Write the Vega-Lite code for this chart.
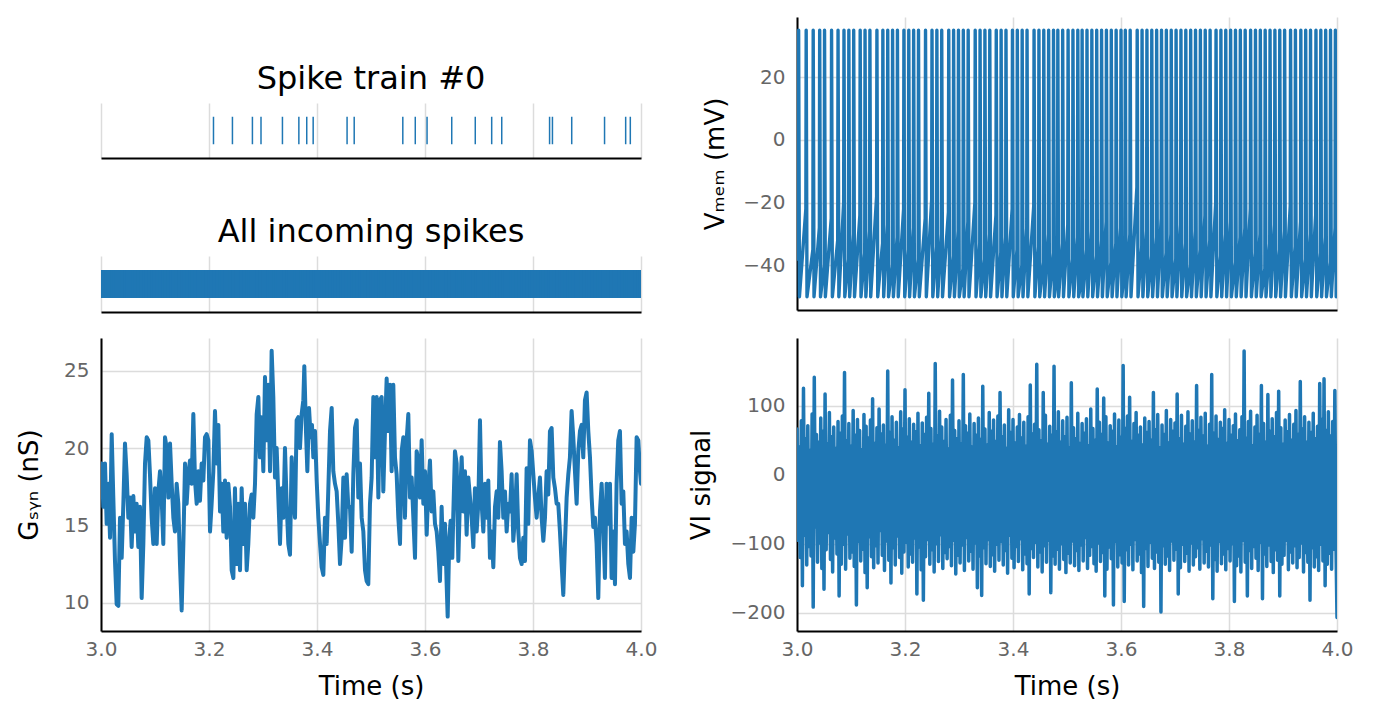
{
"$schema": "https://vega.github.io/schema/vega-lite/v6.json",
"padding": {"left": 16, "top": 17, "right": 5, "bottom": 5},
"config": {
 "font": "DejaVu Sans",
 "view": {"stroke": null},
 "axis": {"domainColor": "#000000", "domainWidth": 2, "gridColor": "#dcdcdc", "gridWidth": 1.5, "ticks": false, "labelColor": "#666666", "labelFontSize": 20, "labelPadding": 11, "labelFlush": false, "titleFontSize": 26, "titleFontWeight": "normal", "titleColor": "#000000"},
 "title": {"fontSize": 32, "fontWeight": "normal", "color": "#000000", "offset": 7, "anchor": "middle"}
},
"datasets": {
"spk": [{"t":3.2083},{"t":3.2434},{"t":3.2804},{"t":3.2963},{"t":3.3360},{"t":3.3664},{"t":3.3810},{"t":3.3929},{"t":3.4557},{"t":3.4689},{"t":3.5589},{"t":3.5820},{"t":3.6038},{"t":3.6495},{"t":3.6931},{"t":3.7235},{"t":3.7421},{"t":3.8307},{"t":3.8360},{"t":3.8717},{"t":3.9325},{"t":3.9716},{"t":3.9802}],
"inc": [{"t":3.001},{"t":3.006},{"t":3.010},{"t":3.015},{"t":3.021},{"t":3.025},{"t":3.030},{"t":3.036},{"t":3.040},{"t":3.045},{"t":3.050},{"t":3.056},{"t":3.061},{"t":3.065},{"t":3.070},{"t":3.076},{"t":3.081},{"t":3.085},{"t":3.091},{"t":3.096},{"t":3.100},{"t":3.105},{"t":3.111},{"t":3.116},{"t":3.120},{"t":3.126},{"t":3.131},{"t":3.135},{"t":3.140},{"t":3.146},{"t":3.151},{"t":3.155},{"t":3.161},{"t":3.166},{"t":3.170},{"t":3.175},{"t":3.181},{"t":3.186},{"t":3.190},{"t":3.196},{"t":3.201},{"t":3.205},{"t":3.210},{"t":3.216},{"t":3.221},{"t":3.225},{"t":3.231},{"t":3.236},{"t":3.240},{"t":3.245},{"t":3.251},{"t":3.256},{"t":3.260},{"t":3.266},{"t":3.271},{"t":3.275},{"t":3.280},{"t":3.286},{"t":3.291},{"t":3.295},{"t":3.301},{"t":3.306},{"t":3.310},{"t":3.315},{"t":3.321},{"t":3.326},{"t":3.330},{"t":3.336},{"t":3.341},{"t":3.345},{"t":3.350},{"t":3.356},{"t":3.361},{"t":3.365},{"t":3.371},{"t":3.376},{"t":3.380},{"t":3.385},{"t":3.391},{"t":3.396},{"t":3.400},{"t":3.406},{"t":3.411},{"t":3.415},{"t":3.420},{"t":3.426},{"t":3.431},{"t":3.435},{"t":3.441},{"t":3.446},{"t":3.450},{"t":3.455},{"t":3.461},{"t":3.466},{"t":3.470},{"t":3.476},{"t":3.481},{"t":3.485},{"t":3.490},{"t":3.496},{"t":3.501},{"t":3.505},{"t":3.511},{"t":3.516},{"t":3.520},{"t":3.525},{"t":3.531},{"t":3.536},{"t":3.540},{"t":3.546},{"t":3.551},{"t":3.555},{"t":3.560},{"t":3.566},{"t":3.571},{"t":3.575},{"t":3.581},{"t":3.586},{"t":3.590},{"t":3.595},{"t":3.601},{"t":3.606},{"t":3.610},{"t":3.616},{"t":3.621},{"t":3.625},{"t":3.630},{"t":3.636},{"t":3.641},{"t":3.645},{"t":3.651},{"t":3.656},{"t":3.660},{"t":3.665},{"t":3.671},{"t":3.676},{"t":3.680},{"t":3.686},{"t":3.691},{"t":3.695},{"t":3.700},{"t":3.706},{"t":3.711},{"t":3.715},{"t":3.721},{"t":3.726},{"t":3.730},{"t":3.735},{"t":3.741},{"t":3.746},{"t":3.750},{"t":3.756},{"t":3.761},{"t":3.765},{"t":3.770},{"t":3.776},{"t":3.781},{"t":3.785},{"t":3.791},{"t":3.796},{"t":3.800},{"t":3.805},{"t":3.811},{"t":3.816},{"t":3.820},{"t":3.826},{"t":3.831},{"t":3.835},{"t":3.840},{"t":3.846},{"t":3.851},{"t":3.855},{"t":3.861},{"t":3.866},{"t":3.870},{"t":3.875},{"t":3.881},{"t":3.886},{"t":3.890},{"t":3.896},{"t":3.901},{"t":3.905},{"t":3.910},{"t":3.916},{"t":3.921},{"t":3.925},{"t":3.931},{"t":3.936},{"t":3.940},{"t":3.945},{"t":3.951},{"t":3.956},{"t":3.960},{"t":3.966},{"t":3.971},{"t":3.975},{"t":3.980},{"t":3.986},{"t":3.991},{"t":3.995},{"t":3.999}],
"gsyn": [{"t":3.0000,"g":18.0},{"t":3.0012,"g":19.0},{"t":3.0043,"g":16.2},{"t":3.0074,"g":19.0},{"t":3.0105,"g":15.1},{"t":3.0136,"g":17.7},{"t":3.0167,"g":14.2},{"t":3.0198,"g":20.9},{"t":3.0228,"g":16.8},{"t":3.0259,"g":12.7},{"t":3.0290,"g":9.9},{"t":3.0321,"g":9.8},{"t":3.0352,"g":15.5},{"t":3.0383,"g":12.9},{"t":3.0414,"g":16.4},{"t":3.0444,"g":20.3},{"t":3.0475,"g":18.3},{"t":3.0506,"g":15.5},{"t":3.0537,"g":16.8},{"t":3.0568,"g":13.6},{"t":3.0599,"g":16.9},{"t":3.0630,"g":14.6},{"t":3.0660,"g":16.4},{"t":3.0691,"g":13.6},{"t":3.0722,"g":16.2},{"t":3.0753,"g":10.3},{"t":3.0784,"g":13.8},{"t":3.0815,"g":19.0},{"t":3.0846,"g":20.7},{"t":3.0877,"g":20.5},{"t":3.0907,"g":18.3},{"t":3.0938,"g":15.5},{"t":3.0969,"g":13.8},{"t":3.1000,"g":17.4},{"t":3.1031,"g":13.8},{"t":3.1062,"g":17.2},{"t":3.1093,"g":18.5},{"t":3.1123,"g":16.8},{"t":3.1154,"g":13.8},{"t":3.1185,"g":20.7},{"t":3.1216,"g":20.0},{"t":3.1247,"g":16.8},{"t":3.1278,"g":20.3},{"t":3.1309,"g":17.7},{"t":3.1340,"g":15.5},{"t":3.1370,"g":14.6},{"t":3.1401,"g":17.7},{"t":3.1432,"g":16.4},{"t":3.1463,"g":12.5},{"t":3.1494,"g":9.5},{"t":3.1525,"g":13.8},{"t":3.1556,"g":19.0},{"t":3.1586,"g":16.4},{"t":3.1617,"g":18.3},{"t":3.1648,"g":19.2},{"t":3.1679,"g":17.7},{"t":3.1710,"g":22.2},{"t":3.1741,"g":17.9},{"t":3.1772,"g":16.4},{"t":3.1802,"g":18.5},{"t":3.1833,"g":16.6},{"t":3.1864,"g":19.0},{"t":3.1895,"g":17.9},{"t":3.1926,"g":20.7},{"t":3.1957,"g":20.9},{"t":3.1988,"g":20.5},{"t":3.2019,"g":14.6},{"t":3.2049,"g":16.4},{"t":3.2080,"g":18.5},{"t":3.2111,"g":22.4},{"t":3.2142,"g":19.0},{"t":3.2173,"g":21.5},{"t":3.2204,"g":15.9},{"t":3.2235,"g":17.7},{"t":3.2265,"g":14.6},{"t":3.2296,"g":17.9},{"t":3.2327,"g":14.2},{"t":3.2358,"g":17.7},{"t":3.2389,"g":16.2},{"t":3.2420,"g":12.1},{"t":3.2451,"g":11.6},{"t":3.2481,"g":17.4},{"t":3.2512,"g":12.5},{"t":3.2543,"g":16.4},{"t":3.2574,"g":12.1},{"t":3.2605,"g":17.4},{"t":3.2636,"g":13.8},{"t":3.2667,"g":16.4},{"t":3.2698,"g":12.1},{"t":3.2728,"g":13.8},{"t":3.2759,"g":16.4},{"t":3.2790,"g":17.0},{"t":3.2821,"g":15.5},{"t":3.2852,"g":17.7},{"t":3.2883,"g":22.2},{"t":3.2914,"g":23.3},{"t":3.2944,"g":19.4},{"t":3.2975,"g":22.0},{"t":3.3006,"g":18.5},{"t":3.3037,"g":24.6},{"t":3.3068,"g":20.5},{"t":3.3099,"g":24.1},{"t":3.3130,"g":18.5},{"t":3.3160,"g":26.3},{"t":3.3191,"g":23.3},{"t":3.3222,"g":18.1},{"t":3.3253,"g":20.0},{"t":3.3284,"g":16.8},{"t":3.3315,"g":13.8},{"t":3.3346,"g":17.4},{"t":3.3377,"g":15.5},{"t":3.3407,"g":20.0},{"t":3.3438,"g":16.4},{"t":3.3469,"g":13.8},{"t":3.3500,"g":13.1},{"t":3.3531,"g":19.4},{"t":3.3562,"g":16.8},{"t":3.3593,"g":15.5},{"t":3.3623,"g":21.8},{"t":3.3654,"g":22.0},{"t":3.3685,"g":20.0},{"t":3.3716,"g":22.2},{"t":3.3747,"g":23.1},{"t":3.3765,"g":25.3},{"t":3.3796,"g":21.1},{"t":3.3821,"g":18.5},{"t":3.3852,"g":22.6},{"t":3.3883,"g":20.7},{"t":3.3907,"g":21.5},{"t":3.3932,"g":19.4},{"t":3.3963,"g":21.1},{"t":3.3994,"g":17.9},{"t":3.4025,"g":15.5},{"t":3.4056,"g":13.8},{"t":3.4086,"g":12.3},{"t":3.4117,"g":11.8},{"t":3.4148,"g":15.5},{"t":3.4179,"g":13.8},{"t":3.4210,"g":17.4},{"t":3.4241,"g":21.1},{"t":3.4272,"g":22.6},{"t":3.4302,"g":18.5},{"t":3.4333,"g":17.7},{"t":3.4364,"g":17.2},{"t":3.4395,"g":15.1},{"t":3.4426,"g":12.5},{"t":3.4457,"g":14.2},{"t":3.4488,"g":18.1},{"t":3.4519,"g":14.2},{"t":3.4549,"g":18.3},{"t":3.4580,"g":16.2},{"t":3.4611,"g":16.2},{"t":3.4642,"g":13.3},{"t":3.4673,"g":18.3},{"t":3.4704,"g":21.3},{"t":3.4735,"g":21.8},{"t":3.4765,"g":16.8},{"t":3.4796,"g":19.0},{"t":3.4827,"g":15.5},{"t":3.4858,"g":14.6},{"t":3.4889,"g":12.1},{"t":3.4919,"g":11.4},{"t":3.4950,"g":11.2},{"t":3.4981,"g":16.4},{"t":3.5012,"g":18.1},{"t":3.5043,"g":23.3},{"t":3.5074,"g":19.4},{"t":3.5105,"g":23.3},{"t":3.5136,"g":16.8},{"t":3.5166,"g":23.1},{"t":3.5197,"g":23.3},{"t":3.5228,"g":17.2},{"t":3.5259,"g":21.1},{"t":3.5290,"g":24.5},{"t":3.5321,"g":21.1},{"t":3.5352,"g":24.1},{"t":3.5382,"g":18.5},{"t":3.5413,"g":24.1},{"t":3.5444,"g":19.4},{"t":3.5475,"g":18.3},{"t":3.5506,"g":15.5},{"t":3.5537,"g":13.8},{"t":3.5568,"g":19.8},{"t":3.5599,"g":20.7},{"t":3.5629,"g":15.5},{"t":3.5660,"g":20.5},{"t":3.5691,"g":22.2},{"t":3.5722,"g":16.8},{"t":3.5753,"g":18.1},{"t":3.5784,"g":15.5},{"t":3.5815,"g":12.9},{"t":3.5845,"g":19.8},{"t":3.5876,"g":19.2},{"t":3.5907,"g":16.8},{"t":3.5938,"g":20.5},{"t":3.5969,"g":16.4},{"t":3.6000,"g":18.5},{"t":3.6031,"g":14.4},{"t":3.6061,"g":17.4},{"t":3.6092,"g":19.2},{"t":3.6123,"g":15.9},{"t":3.6154,"g":17.2},{"t":3.6185,"g":15.1},{"t":3.6216,"g":14.6},{"t":3.6247,"g":13.3},{"t":3.6277,"g":11.4},{"t":3.6308,"g":16.2},{"t":3.6339,"g":12.5},{"t":3.6370,"g":15.1},{"t":3.6401,"g":11.2},{"t":3.6420,"g":9.1},{"t":3.6450,"g":14.2},{"t":3.6475,"g":15.3},{"t":3.6506,"g":12.9},{"t":3.6524,"g":15.7},{"t":3.6555,"g":19.8},{"t":3.6586,"g":19.0},{"t":3.6617,"g":12.7},{"t":3.6648,"g":16.8},{"t":3.6679,"g":19.4},{"t":3.6710,"g":15.9},{"t":3.6740,"g":18.5},{"t":3.6771,"g":14.4},{"t":3.6802,"g":18.1},{"t":3.6833,"g":16.8},{"t":3.6864,"g":15.5},{"t":3.6895,"g":13.6},{"t":3.6925,"g":17.4},{"t":3.6956,"g":14.6},{"t":3.6987,"g":16.4},{"t":3.7018,"g":21.8},{"t":3.7049,"g":16.4},{"t":3.7080,"g":14.6},{"t":3.7111,"g":17.7},{"t":3.7142,"g":15.5},{"t":3.7172,"g":17.9},{"t":3.7203,"g":12.9},{"t":3.7234,"g":14.6},{"t":3.7265,"g":12.3},{"t":3.7296,"g":16.2},{"t":3.7327,"g":17.2},{"t":3.7358,"g":15.5},{"t":3.7388,"g":20.4},{"t":3.7419,"g":18.5},{"t":3.7450,"g":15.5},{"t":3.7481,"g":17.2},{"t":3.7512,"g":14.6},{"t":3.7543,"g":16.4},{"t":3.7574,"g":15.9},{"t":3.7604,"g":18.3},{"t":3.7635,"g":14.0},{"t":3.7666,"g":15.5},{"t":3.7697,"g":18.3},{"t":3.7728,"g":14.6},{"t":3.7759,"g":12.9},{"t":3.7790,"g":12.5},{"t":3.7820,"g":14.2},{"t":3.7851,"g":12.7},{"t":3.7882,"g":18.7},{"t":3.7913,"g":15.1},{"t":3.7944,"g":20.5},{"t":3.7975,"g":19.8},{"t":3.8006,"g":18.3},{"t":3.8036,"g":16.8},{"t":3.8067,"g":15.5},{"t":3.8098,"g":16.8},{"t":3.8129,"g":18.1},{"t":3.8160,"g":15.5},{"t":3.8191,"g":14.0},{"t":3.8222,"g":15.5},{"t":3.8252,"g":18.5},{"t":3.8283,"g":17.0},{"t":3.8314,"g":21.1},{"t":3.8345,"g":21.3},{"t":3.8376,"g":18.1},{"t":3.8407,"g":17.4},{"t":3.8438,"g":16.4},{"t":3.8468,"g":16.4},{"t":3.8499,"g":14.6},{"t":3.8530,"g":12.5},{"t":3.8561,"g":10.5},{"t":3.8592,"g":13.8},{"t":3.8623,"g":16.8},{"t":3.8654,"g":18.3},{"t":3.8684,"g":19.4},{"t":3.8715,"g":22.4},{"t":3.8746,"g":20.7},{"t":3.8777,"g":18.5},{"t":3.8808,"g":16.4},{"t":3.8839,"g":19.8},{"t":3.8870,"g":21.1},{"t":3.8900,"g":21.5},{"t":3.8931,"g":19.4},{"t":3.8962,"g":23.1},{"t":3.8993,"g":23.6},{"t":3.9024,"g":21.1},{"t":3.9055,"g":19.4},{"t":3.9086,"g":16.8},{"t":3.9116,"g":14.9},{"t":3.9147,"g":15.5},{"t":3.9178,"g":13.8},{"t":3.9209,"g":10.3},{"t":3.9240,"g":15.9},{"t":3.9271,"g":17.7},{"t":3.9302,"g":15.1},{"t":3.9332,"g":11.6},{"t":3.9363,"g":17.7},{"t":3.9394,"g":15.1},{"t":3.9425,"g":17.7},{"t":3.9456,"g":11.6},{"t":3.9487,"g":14.6},{"t":3.9518,"g":11.2},{"t":3.9548,"g":17.7},{"t":3.9579,"g":20.5},{"t":3.9610,"g":21.1},{"t":3.9641,"g":16.4},{"t":3.9672,"g":17.2},{"t":3.9703,"g":13.8},{"t":3.9734,"g":14.6},{"t":3.9765,"g":12.5},{"t":3.9796,"g":11.6},{"t":3.9827,"g":15.5},{"t":3.9858,"g":13.3},{"t":3.9888,"g":15.1},{"t":3.9919,"g":20.7},{"t":3.9950,"g":20.5},{"t":3.9981,"g":18.5},{"t":4.0000,"g":17.7}],
"vmem": [{"t":3.0000,"v":-38},{"t":3.0024,"v":-30},{"t":3.003,"v":35},{"t":3.0045,"v":-50},{"t":3.0164,"v":-22},{"t":3.017,"v":35},{"t":3.0185,"v":-50},{"t":3.0294,"v":-35},{"t":3.030,"v":35},{"t":3.0315,"v":-50},{"t":3.0414,"v":-28},{"t":3.042,"v":35},{"t":3.0435,"v":-50},{"t":3.0504,"v":-40},{"t":3.051,"v":35},{"t":3.0525,"v":-50},{"t":3.0634,"v":-25},{"t":3.064,"v":35},{"t":3.0655,"v":-50},{"t":3.0754,"v":-32},{"t":3.076,"v":35},{"t":3.0775,"v":-50},{"t":3.0864,"v":-20},{"t":3.087,"v":35},{"t":3.0885,"v":-50},{"t":3.0954,"v":-38},{"t":3.096,"v":35},{"t":3.0975,"v":-50},{"t":3.1044,"v":-30},{"t":3.105,"v":35},{"t":3.1065,"v":-50},{"t":3.1164,"v":-24},{"t":3.117,"v":35},{"t":3.1185,"v":-50},{"t":3.1254,"v":-36},{"t":3.126,"v":35},{"t":3.1275,"v":-50},{"t":3.1344,"v":-29},{"t":3.135,"v":35},{"t":3.1365,"v":-50},{"t":3.1474,"v":-18},{"t":3.148,"v":35},{"t":3.1495,"v":-50},{"t":3.1584,"v":-33},{"t":3.159,"v":35},{"t":3.1605,"v":-50},{"t":3.1674,"v":-27},{"t":3.168,"v":35},{"t":3.1695,"v":-50},{"t":3.1764,"v":-40},{"t":3.177,"v":35},{"t":3.1785,"v":-50},{"t":3.1854,"v":-31},{"t":3.186,"v":35},{"t":3.1875,"v":-50},{"t":3.1974,"v":-22},{"t":3.198,"v":35},{"t":3.1995,"v":-50},{"t":3.2064,"v":-35},{"t":3.207,"v":35},{"t":3.2085,"v":-50},{"t":3.2154,"v":-28},{"t":3.216,"v":35},{"t":3.2175,"v":-50},{"t":3.2244,"v":-38},{"t":3.225,"v":35},{"t":3.2265,"v":-50},{"t":3.2374,"v":-25},{"t":3.238,"v":35},{"t":3.2395,"v":-50},{"t":3.2494,"v":-19},{"t":3.250,"v":35},{"t":3.2515,"v":-50},{"t":3.2584,"v":-34},{"t":3.259,"v":35},{"t":3.2605,"v":-50},{"t":3.2674,"v":-30},{"t":3.268,"v":35},{"t":3.2695,"v":-50},{"t":3.2804,"v":-23},{"t":3.281,"v":35},{"t":3.2825,"v":-50},{"t":3.2894,"v":-37},{"t":3.290,"v":35},{"t":3.2915,"v":-50},{"t":3.2984,"v":-29},{"t":3.299,"v":35},{"t":3.3005,"v":-50},{"t":3.3074,"v":-41},{"t":3.308,"v":35},{"t":3.3095,"v":-50},{"t":3.3164,"v":-26},{"t":3.317,"v":35},{"t":3.3185,"v":-50},{"t":3.3294,"v":-20},{"t":3.330,"v":35},{"t":3.3315,"v":-50},{"t":3.3384,"v":-33},{"t":3.339,"v":35},{"t":3.3405,"v":-50},{"t":3.3474,"v":-38},{"t":3.348,"v":35},{"t":3.3495,"v":-50},{"t":3.3564,"v":-30},{"t":3.357,"v":35},{"t":3.3585,"v":-50},{"t":3.3684,"v":-24},{"t":3.369,"v":35},{"t":3.3705,"v":-50},{"t":3.3774,"v":-36},{"t":3.378,"v":35},{"t":3.3795,"v":-50},{"t":3.3864,"v":-31},{"t":3.387,"v":35},{"t":3.3885,"v":-50},{"t":3.3984,"v":-22},{"t":3.399,"v":35},{"t":3.4005,"v":-50},{"t":3.4074,"v":-35},{"t":3.408,"v":35},{"t":3.4095,"v":-50},{"t":3.4164,"v":-40},{"t":3.417,"v":35},{"t":3.4185,"v":-50},{"t":3.4254,"v":-28},{"t":3.426,"v":35},{"t":3.4275,"v":-50},{"t":3.4384,"v":-21},{"t":3.439,"v":35},{"t":3.4405,"v":-50},{"t":3.4474,"v":-34},{"t":3.448,"v":35},{"t":3.4495,"v":-50},{"t":3.4564,"v":-39},{"t":3.457,"v":35},{"t":3.4585,"v":-50},{"t":3.4654,"v":-30},{"t":3.466,"v":35},{"t":3.4675,"v":-50},{"t":3.4744,"v":-36},{"t":3.475,"v":35},{"t":3.4765,"v":-50},{"t":3.4824,"v":-42},{"t":3.483,"v":35},{"t":3.4845,"v":-50},{"t":3.4914,"v":-33},{"t":3.492,"v":35},{"t":3.4935,"v":-50},{"t":3.5014,"v":-27},{"t":3.502,"v":35},{"t":3.5035,"v":-50},{"t":3.5104,"v":-38},{"t":3.511,"v":35},{"t":3.5125,"v":-50},{"t":3.5194,"v":-31},{"t":3.520,"v":35},{"t":3.5215,"v":-50},{"t":3.5274,"v":-44},{"t":3.528,"v":35},{"t":3.5295,"v":-50},{"t":3.5364,"v":-35},{"t":3.537,"v":35},{"t":3.5385,"v":-50},{"t":3.5454,"v":-29},{"t":3.546,"v":35},{"t":3.5475,"v":-50},{"t":3.5544,"v":-37},{"t":3.555,"v":35},{"t":3.5565,"v":-50},{"t":3.5634,"v":-32},{"t":3.564,"v":35},{"t":3.5655,"v":-50},{"t":3.5724,"v":-26},{"t":3.573,"v":35},{"t":3.5745,"v":-50},{"t":3.5814,"v":-39},{"t":3.582,"v":35},{"t":3.5835,"v":-50},{"t":3.5904,"v":-33},{"t":3.591,"v":35},{"t":3.5925,"v":-50},{"t":3.5994,"v":-28},{"t":3.600,"v":35},{"t":3.6015,"v":-50},{"t":3.6074,"v":-40},{"t":3.608,"v":35},{"t":3.6095,"v":-50},{"t":3.6164,"v":-30},{"t":3.617,"v":35},{"t":3.6185,"v":-50},{"t":3.6294,"v":-15},{"t":3.630,"v":35},{"t":3.6315,"v":-50},{"t":3.6384,"v":-34},{"t":3.639,"v":35},{"t":3.6405,"v":-50},{"t":3.6474,"v":-29},{"t":3.648,"v":35},{"t":3.6495,"v":-50},{"t":3.6564,"v":-37},{"t":3.657,"v":35},{"t":3.6585,"v":-50},{"t":3.6654,"v":-31},{"t":3.666,"v":35},{"t":3.6675,"v":-50},{"t":3.6744,"v":-25},{"t":3.675,"v":35},{"t":3.6765,"v":-50},{"t":3.6834,"v":-36},{"t":3.684,"v":35},{"t":3.6855,"v":-50},{"t":3.6924,"v":-30},{"t":3.693,"v":35},{"t":3.6945,"v":-50},{"t":3.7014,"v":-38},{"t":3.702,"v":35},{"t":3.7035,"v":-50},{"t":3.7104,"v":-27},{"t":3.711,"v":35},{"t":3.7125,"v":-50},{"t":3.7194,"v":-33},{"t":3.720,"v":35},{"t":3.7215,"v":-50},{"t":3.7284,"v":-40},{"t":3.729,"v":35},{"t":3.7305,"v":-50},{"t":3.7374,"v":-29},{"t":3.738,"v":35},{"t":3.7395,"v":-50},{"t":3.7464,"v":-35},{"t":3.747,"v":35},{"t":3.7485,"v":-50},{"t":3.7554,"v":-24},{"t":3.756,"v":35},{"t":3.7575,"v":-50},{"t":3.7644,"v":-32},{"t":3.765,"v":35},{"t":3.7665,"v":-50},{"t":3.7754,"v":-20},{"t":3.776,"v":35},{"t":3.7775,"v":-50},{"t":3.7844,"v":-37},{"t":3.785,"v":35},{"t":3.7865,"v":-50},{"t":3.7934,"v":-30},{"t":3.794,"v":35},{"t":3.7955,"v":-50},{"t":3.8024,"v":-26},{"t":3.803,"v":35},{"t":3.8045,"v":-50},{"t":3.8114,"v":-39},{"t":3.812,"v":35},{"t":3.8135,"v":-50},{"t":3.8204,"v":-31},{"t":3.821,"v":35},{"t":3.8225,"v":-50},{"t":3.8294,"v":-28},{"t":3.830,"v":35},{"t":3.8315,"v":-50},{"t":3.8394,"v":-22},{"t":3.840,"v":35},{"t":3.8415,"v":-50},{"t":3.8484,"v":-36},{"t":3.849,"v":35},{"t":3.8505,"v":-50},{"t":3.8574,"v":-30},{"t":3.858,"v":35},{"t":3.8595,"v":-50},{"t":3.8664,"v":-41},{"t":3.867,"v":35},{"t":3.8685,"v":-50},{"t":3.8754,"v":-33},{"t":3.876,"v":35},{"t":3.8775,"v":-50},{"t":3.8844,"v":-27},{"t":3.885,"v":35},{"t":3.8865,"v":-50},{"t":3.8934,"v":-35},{"t":3.894,"v":35},{"t":3.8955,"v":-50},{"t":3.9024,"v":-29},{"t":3.903,"v":35},{"t":3.9045,"v":-50},{"t":3.9134,"v":-21},{"t":3.914,"v":35},{"t":3.9155,"v":-50},{"t":3.9224,"v":-34},{"t":3.923,"v":35},{"t":3.9245,"v":-50},{"t":3.9324,"v":-26},{"t":3.933,"v":35},{"t":3.9345,"v":-50},{"t":3.9414,"v":-38},{"t":3.942,"v":35},{"t":3.9435,"v":-50},{"t":3.9504,"v":-30},{"t":3.951,"v":35},{"t":3.9525,"v":-50},{"t":3.9604,"v":-24},{"t":3.961,"v":35},{"t":3.9625,"v":-50},{"t":3.9694,"v":-36},{"t":3.970,"v":35},{"t":3.9715,"v":-50},{"t":3.9784,"v":-31},{"t":3.979,"v":35},{"t":3.9805,"v":-50},{"t":3.9874,"v":-39},{"t":3.988,"v":35},{"t":3.9895,"v":-50},{"t":3.9964,"v":-28},{"t":3.997,"v":35},{"t":3.9985,"v":-50},{"t":4.0000,"v":-44}],
"vi": [{"t":3.000,"v":66},{"t":3.002,"v":-95},{"t":3.004,"v":40},{"t":3.006,"v":-120},{"t":3.008,"v":78},{"t":3.010,"v":-161},{"t":3.012,"v":125},{"t":3.014,"v":-88},{"t":3.016,"v":52},{"t":3.018,"v":-131},
{"t":3.020,"v":71},{"t":3.022,"v":-104},{"t":3.024,"v":35},{"t":3.026,"v":-118},{"t":3.028,"v":88},{"t":3.030,"v":-192},{"t":3.032,"v":141},{"t":3.034,"v":-76},{"t":3.036,"v":58},{"t":3.038,"v":-127},
{"t":3.040,"v":47},{"t":3.042,"v":-99},{"t":3.044,"v":82},{"t":3.046,"v":-136},{"t":3.048,"v":63},{"t":3.050,"v":-166},{"t":3.052,"v":117},{"t":3.054,"v":-109},{"t":3.056,"v":44},{"t":3.058,"v":-84},
{"t":3.060,"v":90},{"t":3.062,"v":-123},{"t":3.064,"v":55},{"t":3.066,"v":-141},{"t":3.068,"v":69},{"t":3.070,"v":-92},{"t":3.072,"v":38},{"t":3.074,"v":-115},{"t":3.076,"v":77},{"t":3.078,"v":-176},
{"t":3.080,"v":60},{"t":3.082,"v":-130},{"t":3.084,"v":85},{"t":3.086,"v":-101},{"t":3.088,"v":148},{"t":3.090,"v":-137},{"t":3.092,"v":49},{"t":3.094,"v":-86},{"t":3.096,"v":74},{"t":3.098,"v":-121},
{"t":3.100,"v":41},{"t":3.102,"v":-112},{"t":3.104,"v":93},{"t":3.106,"v":-133},{"t":3.108,"v":57},{"t":3.110,"v":-189},{"t":3.112,"v":80},{"t":3.114,"v":-97},{"t":3.116,"v":64},{"t":3.118,"v":-125},
{"t":3.120,"v":36},{"t":3.122,"v":-108},{"t":3.124,"v":87},{"t":3.126,"v":-142},{"t":3.128,"v":70},{"t":3.130,"v":-164},{"t":3.132,"v":53},{"t":3.134,"v":-90},{"t":3.136,"v":79},{"t":3.138,"v":-119},
{"t":3.140,"v":110},{"t":3.142,"v":-135},{"t":3.144,"v":45},{"t":3.146,"v":-103},{"t":3.148,"v":68},{"t":3.150,"v":-128},{"t":3.152,"v":95},{"t":3.154,"v":-81},{"t":3.156,"v":59},{"t":3.158,"v":-117},
{"t":3.160,"v":72},{"t":3.162,"v":-139},{"t":3.164,"v":43},{"t":3.166,"v":-96},{"t":3.168,"v":150},{"t":3.170,"v":-124},{"t":3.172,"v":61},{"t":3.174,"v":-157},{"t":3.176,"v":84},{"t":3.178,"v":-106},
{"t":3.180,"v":50},{"t":3.182,"v":-131},{"t":3.184,"v":76},{"t":3.186,"v":-89},{"t":3.188,"v":39},{"t":3.190,"v":-120},{"t":3.192,"v":91},{"t":3.194,"v":-143},{"t":3.196,"v":66},{"t":3.198,"v":-112},
{"t":3.200,"v":123},{"t":3.202,"v":-98},{"t":3.204,"v":54},{"t":3.206,"v":-134},{"t":3.208,"v":81},{"t":3.210,"v":-115},{"t":3.212,"v":47},{"t":3.214,"v":-127},{"t":3.216,"v":73},{"t":3.218,"v":-92},
{"t":3.220,"v":62},{"t":3.222,"v":-173},{"t":3.224,"v":89},{"t":3.226,"v":-105},{"t":3.228,"v":42},{"t":3.230,"v":-138},{"t":3.232,"v":75},{"t":3.234,"v":-182},{"t":3.236,"v":58},{"t":3.238,"v":-119},
{"t":3.240,"v":83},{"t":3.242,"v":-94},{"t":3.244,"v":118},{"t":3.246,"v":-130},{"t":3.248,"v":67},{"t":3.250,"v":-109},{"t":3.252,"v":44},{"t":3.254,"v":-141},{"t":3.256,"v":161},{"t":3.258,"v":-100},
{"t":3.260,"v":56},{"t":3.262,"v":-126},{"t":3.264,"v":92},{"t":3.266,"v":-87},{"t":3.268,"v":69},{"t":3.270,"v":-136},{"t":3.272,"v":48},{"t":3.274,"v":-113},{"t":3.276,"v":80},{"t":3.278,"v":-122},
{"t":3.280,"v":37},{"t":3.282,"v":-104},{"t":3.284,"v":86},{"t":3.286,"v":-132},{"t":3.288,"v":137},{"t":3.290,"v":-95},{"t":3.292,"v":64},{"t":3.294,"v":-144},{"t":3.296,"v":52},{"t":3.298,"v":-117},
{"t":3.300,"v":78},{"t":3.302,"v":-128},{"t":3.304,"v":45},{"t":3.306,"v":-102},{"t":3.308,"v":145},{"t":3.310,"v":-139},{"t":3.312,"v":71},{"t":3.314,"v":-91},{"t":3.316,"v":60},{"t":3.318,"v":-125},
{"t":3.320,"v":88},{"t":3.322,"v":-111},{"t":3.324,"v":40},{"t":3.326,"v":-137},{"t":3.328,"v":74},{"t":3.330,"v":-99},{"t":3.332,"v":57},{"t":3.334,"v":-164},{"t":3.336,"v":82},{"t":3.338,"v":-118},
{"t":3.340,"v":51},{"t":3.342,"v":-175},{"t":3.344,"v":128},{"t":3.346,"v":-106},{"t":3.348,"v":66},{"t":3.350,"v":-129},{"t":3.352,"v":43},{"t":3.354,"v":-94},{"t":3.356,"v":90},{"t":3.358,"v":-133},
{"t":3.360,"v":63},{"t":3.362,"v":-116},{"t":3.364,"v":79},{"t":3.366,"v":-140},{"t":3.368,"v":48},{"t":3.370,"v":-101},{"t":3.372,"v":85},{"t":3.374,"v":-124},{"t":3.376,"v":119},{"t":3.378,"v":-97},
{"t":3.380,"v":55},{"t":3.382,"v":-131},{"t":3.384,"v":72},{"t":3.386,"v":-110},{"t":3.388,"v":38},{"t":3.390,"v":-143},{"t":3.392,"v":94},{"t":3.394,"v":-88},{"t":3.396,"v":61},{"t":3.398,"v":-121},
{"t":3.400,"v":80},{"t":3.402,"v":-135},{"t":3.404,"v":46},{"t":3.406,"v":-104},{"t":3.408,"v":69},{"t":3.410,"v":-126},{"t":3.412,"v":87},{"t":3.414,"v":-93},{"t":3.416,"v":53},{"t":3.418,"v":-138},
{"t":3.420,"v":76},{"t":3.422,"v":-115},{"t":3.424,"v":41},{"t":3.426,"v":-129},{"t":3.428,"v":84},{"t":3.430,"v":-173},{"t":3.432,"v":130},{"t":3.434,"v":-107},{"t":3.436,"v":59},{"t":3.438,"v":-120},
{"t":3.440,"v":73},{"t":3.442,"v":-98},{"t":3.444,"v":160},{"t":3.446,"v":-134},{"t":3.448,"v":65},{"t":3.450,"v":-112},{"t":3.452,"v":49},{"t":3.454,"v":-141},{"t":3.456,"v":119},{"t":3.458,"v":-103},
{"t":3.460,"v":86},{"t":3.462,"v":-127},{"t":3.464,"v":44},{"t":3.466,"v":-95},{"t":3.468,"v":70},{"t":3.470,"v":-171},{"t":3.472,"v":57},{"t":3.474,"v":-118},{"t":3.476,"v":157},{"t":3.478,"v":-130},
{"t":3.480,"v":62},{"t":3.482,"v":-108},{"t":3.484,"v":91},{"t":3.486,"v":-137},{"t":3.488,"v":47},{"t":3.490,"v":-100},{"t":3.492,"v":78},{"t":3.494,"v":-123},{"t":3.496,"v":55},{"t":3.498,"v":-142},
{"t":3.500,"v":83},{"t":3.502,"v":-114},{"t":3.504,"v":39},{"t":3.506,"v":-128},{"t":3.508,"v":133},{"t":3.510,"v":-96},{"t":3.512,"v":68},{"t":3.514,"v":-132},{"t":3.516,"v":52},{"t":3.518,"v":-110},
{"t":3.520,"v":89},{"t":3.522,"v":-139},{"t":3.524,"v":45},{"t":3.526,"v":-102},{"t":3.528,"v":74},{"t":3.530,"v":-125},{"t":3.532,"v":60},{"t":3.534,"v":-91},{"t":3.536,"v":81},{"t":3.538,"v":-136},
{"t":3.540,"v":42},{"t":3.542,"v":-117},{"t":3.544,"v":95},{"t":3.546,"v":-104},{"t":3.548,"v":67},{"t":3.550,"v":-129},{"t":3.552,"v":50},{"t":3.554,"v":-140},{"t":3.556,"v":124},{"t":3.558,"v":-99},
{"t":3.560,"v":76},{"t":3.562,"v":-126},{"t":3.564,"v":58},{"t":3.566,"v":-113},{"t":3.568,"v":111},{"t":3.570,"v":-176},{"t":3.572,"v":84},{"t":3.574,"v":-137},{"t":3.576,"v":46},{"t":3.578,"v":-105},
{"t":3.580,"v":71},{"t":3.582,"v":-122},{"t":3.584,"v":63},{"t":3.586,"v":-189},{"t":3.588,"v":88},{"t":3.590,"v":-97},{"t":3.592,"v":40},{"t":3.594,"v":-134},{"t":3.596,"v":79},{"t":3.598,"v":-116},
{"t":3.600,"v":54},{"t":3.602,"v":-128},{"t":3.604,"v":158},{"t":3.606,"v":-184},{"t":3.608,"v":67},{"t":3.610,"v":-109},{"t":3.612,"v":85},{"t":3.614,"v":-131},{"t":3.616,"v":112},{"t":3.618,"v":-101},
{"t":3.620,"v":48},{"t":3.622,"v":-138},{"t":3.624,"v":74},{"t":3.626,"v":-94},{"t":3.628,"v":90},{"t":3.630,"v":-125},{"t":3.632,"v":57},{"t":3.634,"v":-115},{"t":3.636,"v":69},{"t":3.638,"v":-142},
{"t":3.640,"v":43},{"t":3.642,"v":-191},{"t":3.644,"v":82},{"t":3.646,"v":-107},{"t":3.648,"v":61},{"t":3.650,"v":-133},{"t":3.652,"v":77},{"t":3.654,"v":-98},{"t":3.656,"v":50},{"t":3.658,"v":-121},
{"t":3.660,"v":119},{"t":3.662,"v":-136},{"t":3.664,"v":65},{"t":3.666,"v":-112},{"t":3.668,"v":87},{"t":3.670,"v":-127},{"t":3.672,"v":39},{"t":3.674,"v":-199},{"t":3.676,"v":72},{"t":3.678,"v":-103},
{"t":3.680,"v":58},{"t":3.682,"v":-130},{"t":3.684,"v":93},{"t":3.686,"v":-118},{"t":3.688,"v":46},{"t":3.690,"v":-139},{"t":3.692,"v":80},{"t":3.694,"v":-96},{"t":3.696,"v":63},{"t":3.698,"v":-124},
{"t":3.700,"v":75},{"t":3.702,"v":-108},{"t":3.704,"v":117},{"t":3.706,"v":-173},{"t":3.708,"v":52},{"t":3.710,"v":-135},{"t":3.712,"v":86},{"t":3.714,"v":-101},{"t":3.716,"v":44},{"t":3.718,"v":-126},
{"t":3.720,"v":70},{"t":3.722,"v":-114},{"t":3.724,"v":91},{"t":3.726,"v":-140},{"t":3.728,"v":59},{"t":3.730,"v":-99},{"t":3.732,"v":78},{"t":3.734,"v":-131},{"t":3.736,"v":47},{"t":3.738,"v":-119},
{"t":3.740,"v":129},{"t":3.742,"v":-106},{"t":3.744,"v":64},{"t":3.746,"v":-137},{"t":3.748,"v":83},{"t":3.750,"v":-93},{"t":3.752,"v":56},{"t":3.754,"v":-128},{"t":3.756,"v":89},{"t":3.758,"v":-111},
{"t":3.760,"v":41},{"t":3.762,"v":-134},{"t":3.764,"v":73},{"t":3.766,"v":-102},{"t":3.768,"v":145},{"t":3.770,"v":-180},{"t":3.772,"v":60},{"t":3.774,"v":-123},{"t":3.776,"v":85},{"t":3.778,"v":-140},
{"t":3.780,"v":51},{"t":3.782,"v":-97},{"t":3.784,"v":76},{"t":3.786,"v":-129},{"t":3.788,"v":67},{"t":3.790,"v":-115},{"t":3.792,"v":94},{"t":3.794,"v":-138},{"t":3.796,"v":45},{"t":3.798,"v":-107},
{"t":3.800,"v":80},{"t":3.802,"v":-125},{"t":3.804,"v":57},{"t":3.806,"v":-100},{"t":3.808,"v":71},{"t":3.810,"v":-184},{"t":3.812,"v":88},{"t":3.814,"v":-132},{"t":3.816,"v":49},{"t":3.818,"v":-118},
{"t":3.820,"v":65},{"t":3.822,"v":-141},{"t":3.824,"v":84},{"t":3.826,"v":-95},{"t":3.828,"v":179},{"t":3.830,"v":-127},{"t":3.832,"v":53},{"t":3.834,"v":-176},{"t":3.836,"v":77},{"t":3.838,"v":-110},
{"t":3.840,"v":92},{"t":3.842,"v":-136},{"t":3.844,"v":42},{"t":3.846,"v":-104},{"t":3.848,"v":69},{"t":3.850,"v":-121},{"t":3.852,"v":86},{"t":3.854,"v":-139},{"t":3.856,"v":58},{"t":3.858,"v":-98},
{"t":3.860,"v":129},{"t":3.862,"v":-180},{"t":3.864,"v":74},{"t":3.866,"v":-115},{"t":3.868,"v":47},{"t":3.870,"v":-133},{"t":3.872,"v":116},{"t":3.874,"v":-102},{"t":3.876,"v":63},{"t":3.878,"v":-126},
{"t":3.880,"v":81},{"t":3.882,"v":-142},{"t":3.884,"v":55},{"t":3.886,"v":-109},{"t":3.888,"v":90},{"t":3.890,"v":-124},{"t":3.892,"v":121},{"t":3.894,"v":-176},{"t":3.896,"v":68},{"t":3.898,"v":-130},
{"t":3.900,"v":44},{"t":3.902,"v":-117},{"t":3.904,"v":79},{"t":3.906,"v":-95},{"t":3.908,"v":62},{"t":3.910,"v":-138},{"t":3.912,"v":87},{"t":3.914,"v":-112},{"t":3.916,"v":50},{"t":3.918,"v":-128},
{"t":3.920,"v":73},{"t":3.922,"v":-103},{"t":3.924,"v":93},{"t":3.926,"v":-135},{"t":3.928,"v":58},{"t":3.930,"v":-120},{"t":3.932,"v":135},{"t":3.934,"v":-99},{"t":3.936,"v":66},{"t":3.938,"v":-141},
{"t":3.940,"v":84},{"t":3.942,"v":-113},{"t":3.944,"v":47},{"t":3.946,"v":-127},{"t":3.948,"v":76},{"t":3.950,"v":-182},{"t":3.952,"v":61},{"t":3.954,"v":-106},{"t":3.956,"v":89},{"t":3.958,"v":-134},
{"t":3.960,"v":52},{"t":3.962,"v":-119},{"t":3.964,"v":70},{"t":3.966,"v":-139},{"t":3.968,"v":132},{"t":3.970,"v":-101},{"t":3.972,"v":80},{"t":3.974,"v":-125},{"t":3.976,"v":139},{"t":3.978,"v":-161},
{"t":3.980,"v":64},{"t":3.982,"v":-130},{"t":3.984,"v":91},{"t":3.986,"v":-114},{"t":3.988,"v":56},{"t":3.990,"v":-137},{"t":3.992,"v":77},{"t":3.994,"v":-108},{"t":3.996,"v":122},{"t":3.998,"v":-96},
{"t":4.000,"v":-207}]
},
"columns": 2,
"align": "each",
"spacing": {"row": 26, "column": 31},
"concat": [
 {"vconcat": [
   {"data": {"values": [{"t": 3.5}]}, "width": 540, "height": 46, "mark": {"type": "point", "opacity": 0},
    "encoding": {"x": {"field": "t", "type": "quantitative", "scale": {"domain": [3, 4]}, "axis": null}}},
   {"vconcat": [
     {"title": "Spike train #0", "data": {"name": "spk"}, "width": 540, "height": 55,
      "mark": {"type": "rule", "color": "#1f77b4", "strokeWidth": 1.5},
      "encoding": {
        "x": {"field": "t", "type": "quantitative", "scale": {"domain": [3, 4], "nice": false, "zero": false}, "axis": {"values": [3, 3.2, 3.4, 3.6, 3.8, 4], "labels": false, "title": null, "grid": true}},
        "y": {"datum": 0.5, "type": "quantitative", "scale": {"domain": [0, 2], "nice": false}, "axis": null},
        "y2": {"datum": 1.5}}},
     {"title": "All incoming spikes", "data": {"name": "inc"}, "width": 540, "height": 56,
      "mark": {"type": "rule", "color": "#1f77b4", "strokeWidth": 4.5, "clip": true},
      "encoding": {
        "x": {"field": "t", "type": "quantitative", "scale": {"domain": [3, 4], "nice": false, "zero": false}, "axis": {"values": [3, 3.2, 3.4, 3.6, 3.8, 4], "labels": false, "title": null, "grid": true}},
        "y": {"datum": 0.5, "type": "quantitative", "scale": {"domain": [0, 2], "nice": false}, "axis": null},
        "y2": {"datum": 1.5}}}
   ], "spacing": 58}
 ], "spacing": 0},
 {"data": {"name": "vmem"}, "width": 540, "height": 293,
  "mark": {"type": "line", "color": "#1f77b4", "strokeWidth": 3.4, "strokeCap": "round", "strokeJoin": "round", "clip": true},
  "encoding": {
    "x": {"field": "t", "type": "quantitative", "scale": {"domain": [3, 4], "nice": false, "zero": false}, "axis": {"values": [3, 3.2, 3.4, 3.6, 3.8, 4], "labels": false, "title": null, "grid": true}},
    "y": {"field": "v", "type": "quantitative", "scale": {"domain": [-54.25, 39.25], "nice": false, "zero": false}, "axis": {"values": [-40, -20, 0, 20], "title": "Vₘₑₘ (mV)", "grid": true, "labelPadding": 12, "titlePadding": 14}}}},
 {"data": {"name": "gsyn"}, "width": 540, "height": 293,
  "mark": {"type": "line", "color": "#1f77b4", "strokeWidth": 4, "strokeCap": "round", "strokeJoin": "round", "clip": true},
  "encoding": {
    "x": {"field": "t", "type": "quantitative", "scale": {"domain": [3, 4], "nice": false, "zero": false}, "axis": {"values": [3, 3.2, 3.4, 3.6, 3.8, 4], "format": ".1f", "title": "Time (s)", "grid": true, "labelPadding": 8, "titlePadding": 14}},
    "y": {"field": "g", "type": "quantitative", "scale": {"domain": [8.17, 27.12], "nice": false, "zero": false}, "axis": {"values": [10, 15, 20, 25], "title": "Gₛᵧₙ (nS)", "grid": true, "labelPadding": 12, "titlePadding": 21}}}},
 {"data": {"name": "vi"}, "width": 540, "height": 293,
  "mark": {"type": "line", "color": "#1f77b4", "strokeWidth": 3.5, "strokeCap": "round", "strokeJoin": "round", "clip": true},
  "encoding": {
    "x": {"field": "t", "type": "quantitative", "scale": {"domain": [3, 4], "nice": false, "zero": false}, "axis": {"values": [3, 3.2, 3.4, 3.6, 3.8, 4], "format": ".1f", "title": "Time (s)", "grid": true, "labelPadding": 8, "titlePadding": 14}},
    "y": {"field": "v", "type": "quantitative", "scale": {"domain": [-226.6, 198], "nice": false, "zero": false}, "axis": {"values": [-200, -100, 0, 100], "title": "VI signal", "grid": true, "labelPadding": 12, "titlePadding": 16}}}}
]
}
